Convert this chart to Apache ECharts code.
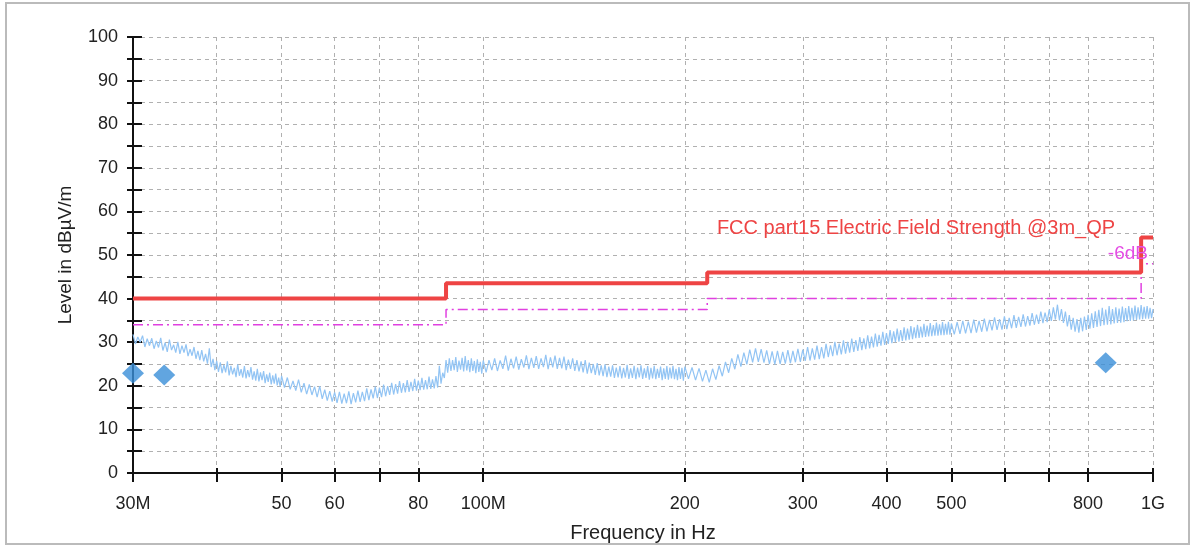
<!DOCTYPE html>
<html>
<head>
<meta charset="utf-8">
<script src="https://cdn.jsdelivr.net/npm/echarts@6/dist/echarts.min.js"></script>
<style>
  html, body { margin: 0; padding: 0; background: #fff; }
  #chart { width: 1195px; height: 546px; }
</style>
</head>
<body>
<div id="chart"></div>
<script>
// x axis ticks (MHz) and labels
const xTicks = [30, 40, 50, 60, 70, 80, 100, 200, 300, 400, 500, 600, 700, 800, 1000];
const xLabelValues = [30, 50, 60, 80, 100, 200, 300, 400, 500, 800, 1000];
const xLabelNames = ['30M', '50', '60', '80', '100M', '200', '300', '400', '500', '800', '1G'];

// limit line and -6dB margin (step at each frequency)
const limitFreq = [30, 88, 216, 960, 1000];
const limitLevel = [40, 43.5, 46, 54, 54];
const marginLevel = [34, 37.5, 40, 48, 48];

// measured trace, frequencies in MHz
const traceFreq = [
  30, 30.25, 30.5, 30.75, 31, 31.25, 31.5, 31.75, 32, 32.25, 32.5, 32.75, 33, 33.25, 33.5, 33.75, 34, 34.25, 34.5, 34.75,
  35, 35.25, 35.5, 35.75, 36, 36.25, 36.5, 36.75, 37, 37.25, 37.5, 37.75, 38, 38.25, 38.5, 38.75, 39, 39.25, 39.5, 39.75,
  40, 40.25, 40.5, 40.75, 41, 41.25, 41.5, 41.75, 42, 42.25, 42.5, 42.75, 43, 43.25, 43.5, 43.75, 44, 44.25, 44.5, 44.75,
  45, 45.25, 45.5, 45.75, 46, 46.25, 46.5, 46.75, 47, 47.25, 47.5, 47.75, 48, 48.25, 48.5, 48.75, 49, 49.25, 49.5, 49.75, 50,
  50.5, 51, 51.5, 52, 52.5, 53, 53.5, 54, 54.5, 55, 55.5, 56, 56.5, 57, 57.5, 58, 58.5, 59, 59.5, 60,
  60.5, 61, 61.5, 62, 62.5, 63, 63.5, 64, 64.5, 65, 65.5, 66, 66.5, 67, 67.5, 68, 68.5, 69, 69.5, 70,
  70.5, 71, 71.5, 72, 72.5, 73, 73.5, 74, 74.5, 75, 75.5, 76, 76.5, 77, 77.5, 78, 78.5, 79, 79.5, 80,
  80.5, 81, 81.5, 82, 82.5, 83, 83.5, 84, 84.5, 85, 85.5, 86, 86.5, 87, 87.5, 88, 88.5, 89, 89.5, 90,
  90.5, 91, 91.5, 92, 92.5, 93, 93.5, 94, 94.5, 95, 95.5, 96, 96.5, 97, 97.5, 98, 98.5, 99, 99.5, 100,
  101, 102, 103, 104, 105, 106, 107, 108, 109, 110, 111, 112, 113, 114, 115, 116, 117, 118, 119, 120,
  121, 122, 123, 124, 125, 126, 127, 128, 129, 130, 131, 132, 133, 134, 135, 136, 137, 138, 139, 140,
  141, 142, 143, 144, 145, 146, 147, 148, 149, 150, 151, 152, 153, 154, 155, 156, 157, 158, 159, 160,
  161, 162, 163, 164, 165, 166, 167, 168, 169, 170, 171, 172, 173, 174, 175, 176, 177, 178, 179, 180,
  181, 182, 183, 184, 185, 186, 187, 188, 189, 190, 191, 192, 193, 194, 195, 196, 197, 198, 199, 200,
  202.5, 205, 207.5, 210, 212.5, 215, 217.5, 220, 222.5, 225, 227.5, 230, 232.5, 235, 237.5, 240, 242.5, 245, 247.5, 250,
  252.5, 255, 257.5, 260, 262.5, 265, 267.5, 270, 272.5, 275, 277.5, 280, 282.5, 285, 287.5, 290, 292.5, 295, 297.5, 300,
  302.5, 305, 307.5, 310, 312.5, 315, 317.5, 320, 322.5, 325, 327.5, 330, 332.5, 335, 337.5, 340, 342.5, 345, 347.5, 350,
  352.5, 355, 357.5, 360, 362.5, 365, 367.5, 370, 372.5, 375, 377.5, 380, 382.5, 385, 387.5, 390, 392.5, 395, 397.5, 400,
  402.5, 405, 407.5, 410, 412.5, 415, 417.5, 420, 422.5, 425, 427.5, 430, 432.5, 435, 437.5, 440, 442.5, 445, 447.5, 450,
  452.5, 455, 457.5, 460, 462.5, 465, 467.5, 470, 472.5, 475, 477.5, 480, 482.5, 485, 487.5, 490, 492.5, 495, 497.5, 500,
  505, 510, 515, 520, 525, 530, 535, 540, 545, 550, 555, 560, 565, 570, 575, 580, 585, 590, 595, 600,
  605, 610, 615, 620, 625, 630, 635, 640, 645, 650, 655, 660, 665, 670, 675, 680, 685, 690, 695, 700,
  705, 710, 715, 720, 725, 730, 735, 740, 745, 750, 755, 760, 765, 770, 775, 780, 785, 790, 795, 800,
  805, 810, 815, 820, 825, 830, 835, 840, 845, 850, 855, 860, 865, 870, 875, 880, 885, 890, 895, 900,
  905, 910, 915, 920, 925, 930, 935, 940, 945, 950, 955, 960, 965, 970, 975, 980, 985, 990, 995, 1000
];
const traceLevel = [
  31.8, 29.6, 31.2, 30.0, 31.5, 28.9, 30.8, 29.2, 30.9, 28.5, 30.3, 28.8, 31.0, 28.1, 29.9, 27.8, 30.6, 28.2, 29.4, 27.6,
  30.1, 27.3, 29.2, 27.6, 29.5, 26.8, 28.4, 26.9, 28.9, 26.2, 28.0, 25.9, 28.2, 25.6, 27.3, 25.1, 28.6, 24.3, 26.2, 23.6,
  25.7, 23.2, 25.4, 22.9, 24.8, 23.1, 25.6, 22.4, 24.6, 22.6, 24.1, 22.0, 24.9, 22.3, 23.8, 21.9, 24.5, 21.7, 23.6, 22.0,
  24.3, 21.4, 23.3, 21.2, 23.9, 21.0, 23.1, 21.3, 23.4, 20.6, 22.6, 20.9, 23.0, 20.3, 22.4, 20.5, 22.8, 20.1, 21.9, 19.8, 22.3,
  19.6, 21.9, 19.2, 21.1, 18.9, 21.4, 18.5, 20.6, 18.1, 20.3, 17.9, 19.8, 17.4, 19.9, 17.0, 19.1, 16.6, 18.8, 16.4, 18.5,
  16.1, 18.6, 15.9, 18.2, 16.0, 18.7, 15.8, 18.3, 16.2, 18.9, 16.3, 18.6, 16.5, 19.4, 16.7, 19.2, 17.1, 19.8, 17.2, 19.6,
  17.4, 20.3, 17.6, 19.9, 17.9, 20.7, 18.0, 20.4, 18.2, 21.1, 18.4, 20.6, 18.5, 21.3, 18.6, 20.9, 18.8, 21.6, 18.9, 21.2,
  19.0, 21.8, 19.1, 21.3, 19.2, 22.1, 19.3, 21.5, 19.4, 22.2, 19.6, 24.6, 20.5, 23.0, 21.8, 25.9, 23.0, 26.3, 23.4, 25.9,
  23.6, 26.6, 23.2, 25.8, 23.7, 26.4, 23.3, 26.8, 23.5, 25.9, 23.1, 26.3, 23.4, 25.7, 22.9, 26.1, 23.2, 25.5, 22.8, 25.8,
  23.1, 25.9, 23.6, 26.3, 23.4, 25.8, 23.9, 26.9, 23.5, 26.2, 24.0, 26.7, 23.7, 26.1, 24.2, 27.0, 23.8, 26.4, 24.1, 26.8,
  23.9, 26.3, 24.3, 27.1, 23.8, 26.5, 24.2, 26.9, 23.9, 26.4, 24.0, 26.7, 23.6, 26.0, 23.9, 26.3, 23.4, 25.9, 23.3, 25.6,
  23.1, 25.9, 22.8, 25.3, 22.9, 25.0, 22.5, 25.2, 22.4, 24.7, 22.2, 24.9, 22.0, 24.4, 22.1, 24.7, 21.8, 24.2, 21.9, 24.5,
  21.7, 24.1, 21.9, 24.8, 21.6, 24.0, 21.8, 24.6, 21.5, 24.2, 21.9, 24.7, 21.6, 24.0, 21.8, 24.5, 21.4, 24.1, 21.7, 24.6,
  21.5, 23.9, 21.8, 24.4, 21.3, 24.0, 21.6, 24.5, 21.4, 24.2, 21.7, 24.6, 21.5, 23.9, 21.3, 24.3, 21.6, 24.1, 21.2, 24.4,
  21.6, 24.2, 21.3, 24.0, 21.0, 23.6, 20.8, 23.9, 21.4, 24.6, 22.2, 25.5, 23.0, 26.3, 23.8, 27.2, 24.4, 27.6, 24.9, 28.3,
  25.4, 28.6, 25.5, 28.4, 25.3, 28.1, 25.0, 27.9, 24.9, 28.0, 25.0, 27.8, 25.1, 28.2, 25.2, 28.0, 25.4, 28.5, 25.5, 28.3,
  25.7, 28.9, 25.8, 28.6, 26.0, 29.2, 26.1, 28.9, 26.3, 29.6, 26.6, 29.3, 26.8, 30.1, 27.0, 29.7, 27.2, 30.4, 27.4, 30.1,
  27.6, 30.8, 27.8, 30.5, 28.0, 31.2, 28.2, 30.9, 28.4, 31.6, 28.6, 31.3, 28.8, 32.0, 29.0, 31.7, 29.2, 32.4, 29.4, 32.1,
  29.6, 32.8, 29.8, 32.5, 30.0, 33.1, 30.1, 32.8, 30.3, 33.4, 30.4, 33.1, 30.6, 33.7, 30.7, 33.4, 30.9, 34.0, 31.0, 33.6,
  31.1, 34.2, 31.2, 33.8, 31.3, 34.4, 31.4, 33.9, 31.5, 34.5, 31.5, 34.1, 31.6, 34.6, 31.6, 34.2, 31.7, 34.7, 31.7, 34.3,
  31.8, 34.6, 31.9, 34.9, 32.0, 34.7, 32.1, 35.2, 32.2, 34.9, 32.4, 35.4, 32.5, 35.1, 32.7, 35.7, 32.8, 35.3, 32.9, 35.9,
  33.0, 35.6, 33.2, 36.2, 33.3, 35.8, 33.5, 36.4, 33.6, 36.0, 33.8, 36.7, 34.0, 36.3, 34.2, 37.0, 34.4, 36.8, 34.6, 37.5,
  34.9, 38.0, 35.2, 38.6, 35.0, 37.6, 34.4, 37.0, 33.6, 36.2, 32.9, 35.6, 32.4, 35.3, 32.2, 35.6, 32.5, 35.9, 32.8, 36.3,
  33.1, 36.6, 33.3, 37.1, 33.5, 37.4, 33.7, 37.9, 33.9, 37.5, 34.0, 38.3, 34.1, 37.6, 34.3, 38.0, 34.4, 37.7, 34.5, 38.2,
  34.6, 37.8, 34.8, 38.3, 34.9, 37.9, 35.0, 38.4, 35.1, 38.0, 35.2, 38.5, 35.3, 38.1, 35.4, 38.3, 35.4, 37.9, 35.5, 37.6
];

// final peak measurements
const peakFreq = [30.0, 33.4, 850];
const peakLevel = [22.9, 22.5, 25.3];

const font = 'Liberation Sans, Arial, sans-serif';
const pair = (xs, ys) => xs.map((x, i) => [x, ys[i]]);

let chart = echarts.init(document.getElementById('chart'));
let option = {
  animation: false,
  grid: { left: 133, right: 42, top: 37, bottom: 73, outerBoundsMode: 'none', containLabel: false },
  xAxis: [
    {
      type: 'log', logBase: 10, min: 30, max: 1000,
      name: 'Frequency in Hz', nameLocation: 'middle', nameGap: 50,
      nameTextStyle: { fontFamily: font, fontSize: 20, color: '#222' },
      axisLine: { lineStyle: { color: '#111', width: 2 } },
      axisTick: { customValues: xTicks, length: 9, lineStyle: { color: '#111', width: 2 } },
      axisLabel: {
        customValues: xLabelValues, margin: 22, fontFamily: font, fontSize: 18, color: '#222',
        formatter: v => xLabelNames[xLabelValues.indexOf(v)]
      },
      splitLine: { show: true, lineStyle: { color: '#b0b0b0', type: [4, 4], width: 1 } },
      minorTick: { show: false }
    },
    {
      type: 'log', logBase: 10, min: 30, max: 1000, position: 'bottom',
      axisLine: { show: false },
      axisTick: { customValues: xTicks, inside: true, length: 5, lineStyle: { color: '#111', width: 2 } },
      axisLabel: { show: false },
      splitLine: { show: false }
    }
  ],
  yAxis: [
    {
      type: 'value', min: 0, max: 100, interval: 10,
      name: 'Level in dBµV/m', nameLocation: 'middle', nameGap: 58,
      nameTextStyle: { fontFamily: font, fontSize: 19, color: '#222' },
      axisLine: { show: true, lineStyle: { color: '#111', width: 2 } },
      axisTick: { show: true, length: 6, lineStyle: { color: '#111', width: 2 } },
      minorTick: { show: true, splitNumber: 2, length: 6, lineStyle: { color: '#111', width: 2 } },
      axisLabel: { margin: 15, fontFamily: font, fontSize: 18, color: '#222' },
      splitLine: { show: true, lineStyle: { color: '#b0b0b0', type: [4, 4], width: 1 } },
      minorSplitLine: { show: true, lineStyle: { color: '#b0b0b0', type: [4, 4], width: 1 } }
    },
    {
      type: 'value', min: 0, max: 100, interval: 10, position: 'left',
      axisLine: { show: false },
      axisTick: { show: true, inside: true, length: 9, lineStyle: { color: '#111', width: 2 } },
      minorTick: { show: true, splitNumber: 2, length: 9, lineStyle: { color: '#111', width: 2 } },
      axisLabel: { show: false },
      splitLine: { show: false }
    }
  ],
  graphic: [
    { type: 'rect', shape: { x: 6, y: 3, width: 1183, height: 541 }, style: { fill: 'none', stroke: '#bbb', lineWidth: 2 }, silent: true },
    { type: 'text', x: 916, y: 228, style: { text: 'FCC part15 Electric Field Strength @3m_QP', fill: '#ee4444', font: '20px ' + font, textAlign: 'center', textVerticalAlign: 'middle' }, z: 10 },
    { type: 'text', x: 1148, y: 254, style: { text: '-6dB', fill: '#e44ce4', font: '19px ' + font, textAlign: 'right', textVerticalAlign: 'middle' }, z: 10 }
  ],
  series: [
    {
      name: 'trace', type: 'line', data: pair(traceFreq, traceLevel), showSymbol: false,
      lineStyle: { color: '#92c4f4', width: 1.2 }, z: 2
    },
    {
      name: 'margin', type: 'line', step: 'end', data: pair(limitFreq, marginLevel), showSymbol: false,
      lineStyle: { color: '#e040e0', width: 1.5, type: [10, 4, 2, 4] }, z: 3
    },
    {
      name: 'limit', type: 'line', step: 'end', data: pair(limitFreq, limitLevel), showSymbol: false,
      lineStyle: { color: '#ee4444', width: 4 }, z: 4
    },
    {
      name: 'peaks', type: 'scatter', data: pair(peakFreq, peakLevel), symbol: 'diamond', symbolSize: [22, 21],
      itemStyle: { color: '#3a8fd8' }, clip: false, z: 5
    }
  ]
};
chart.setOption(option);
</script>
</body>
</html>
